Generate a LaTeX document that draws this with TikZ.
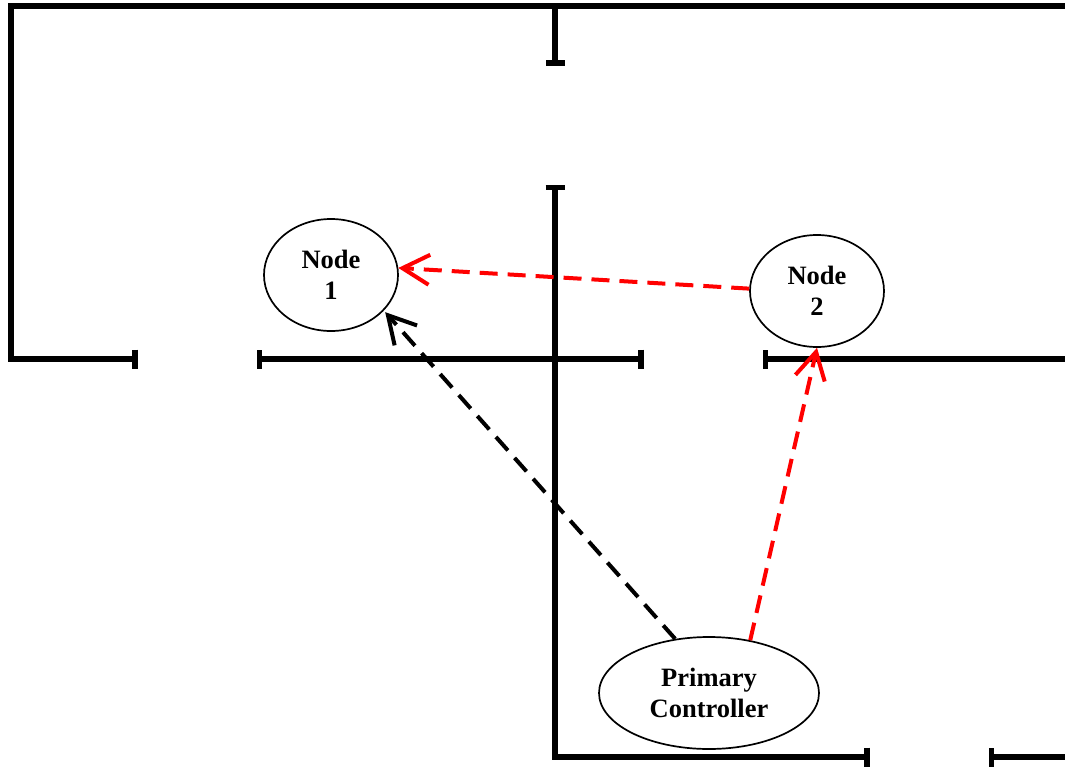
\documentclass[tikz,border=0pt]{standalone}
\usepackage{fontspec}
\setmainfont{Liberation Serif}
\usetikzlibrary{shapes.geometric, arrows.meta}

\begin{document}
\begin{tikzpicture}[
					x=1pt, y=-1pt,
					wall/.style={line width=5.5pt, line cap=butt},
					wallend/.style={wall, {Bar[width=19pt]}-{Bar[width=19pt]}},
					wallfree/.style={wall, -{Bar[width=19pt]}},
					wallstart/.style={wall, {Bar[width=19pt]}-},
					room/.style={ellipse, draw, line width=1.7pt, inner sep=0pt, minimum height=112pt, align=center, font=\fontsize{26.5}{30.5}\selectfont\bfseries},
					link/.style={line width=4pt, dash pattern=on 18pt off 10pt, -{Straight Barb[length=27pt, width=30pt]}}
					]
					\useasboundingbox (0,0) rectangle (1065,766);
					% walls
					\draw[wall] (1065,6) -- (11,6) -- (11,359) -- (30,359);
					\draw[wallfree] (30,359) -- (137.5,359);
					\draw[wallfree] (555,6) -- (555,65.5);
					\draw[wallend] (256.5,359) -- (643.5,359);
					\draw[wallstart] (762.5,359) -- (1065,359);
					\draw[wallstart] (555,184.5) -- (555,757);
					\draw[wallfree] (552.25,757) -- (869.5,757);
					\draw[wallstart] (988.5,757) -- (1065,757);
					% nodes
					\node[room, minimum width=134pt] (node1) at (331,275) {Node\\1};
					\node[room, minimum width=134pt] (node2) at (817,291) {Node\\2};
					\node[room, minimum width=220pt] (primary) at (709,693) {Primary\\Controller};
					% links
					\draw[link, red] (node2.178) -- (node1.6);
					\draw[link, shorten >=2pt] (primary.122) -- (node1.-34);
					\draw[link, red] (primary.52) -- (node2.south);
				\end{tikzpicture}
\end{document}
